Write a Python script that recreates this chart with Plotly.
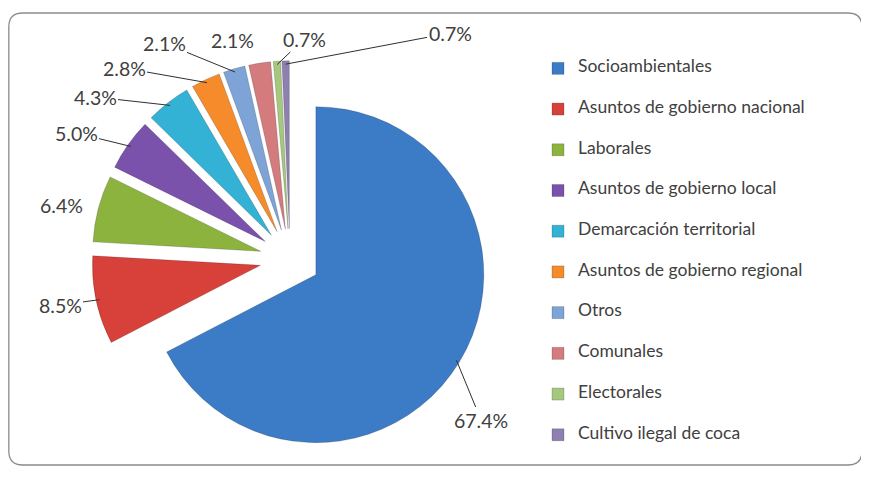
import math
import plotly.graph_objects as go

categories = [
    "Socioambientales",
    "Asuntos de gobierno nacional",
    "Laborales",
    "Asuntos de gobierno local",
    "Demarcación territorial",
    "Asuntos de gobierno regional",
    "Otros",
    "Comunales",
    "Electorales",
    "Cultivo ilegal de coca",
]
values = [67.4, 8.5, 6.4, 5.0, 4.3, 2.8, 2.1, 2.1, 0.7, 0.7]
colors = [
    "#3C7BC6", "#D8413A", "#8DB33F", "#7B52AB", "#33B2D5",
    "#F68B2C", "#7EA3D6", "#D47B7D", "#A6C87E", "#8E80B0",
]

# where each percentage label sits (window pixels) and whether it has a leader line
label_pos = [(481, 420), (60, 305), (61, 205), (76, 133), (95, 97),
             (124, 68), (164, 43), (232, 40), (304, 39), (450, 33)]
leader = [True, True, False, True, True, True, True, False, True, True]

W, H = 869, 477
OFF = 8  # page body margin
FONT = "Lato"
TEXT_COLOR = "#404040"


def px(wx):
    return (wx - OFF) / W


def py(wy):
    return 1 - (wy - OFF) / H


# legend labels: blank lines above/below give taller, centred entries
legend_labels = [
    f"<br><span style='font-size:17.5px'>{c}</span><br> " for c in categories
]

# pie geometry (window pixels) -> paper domain
cx, cy, r, pull = 290, 259, 168, 0.18
half = r * (1 + pull)
dom_x = [px(cx - half), px(cx + half)]
dom_y = [py(cy + half), py(cy - half)]

fig = go.Figure(
    go.Pie(
        labels=legend_labels,
        values=values,
        sort=False,
        direction="clockwise",
        rotation=0,
        pull=[pull] * len(values),
        marker=dict(colors=colors, line=dict(color="rgba(0,0,0,0.22)", width=0.8)),
        textinfo="none",
        domain=dict(x=dom_x, y=dom_y),
        hoverinfo="skip",
    )
)

# percentage labels with leader lines pointing at each slice's outer edge
total = sum(values)
annotations = []
start = 0.0
for v, (lx, ly), has_line in zip(values, label_pos, leader):
    mid = (start + v / 2) / total * 2 * math.pi
    start += v
    dist = r * (pull + 0.98)
    tx = cx + dist * math.sin(mid)
    ty = cy - dist * math.cos(mid)
    txt = f"{v:.1f}%"
    if has_line:
        annotations.append(dict(
            x=px(tx), y=py(ty), xref="paper", yref="paper",
            text=txt, showarrow=True, arrowhead=0, arrowwidth=1,
            arrowcolor="#303030", ax=lx - tx, ay=ly - ty, standoff=0,
            font=dict(size=19.5, family=FONT, color=TEXT_COLOR),
        ))
    else:
        annotations.append(dict(
            x=px(lx), y=py(ly), xref="paper", yref="paper",
            text=txt, showarrow=False, xanchor="center", yanchor="middle",
            font=dict(size=19.5, family=FONT, color=TEXT_COLOR),
        ))

# rounded border
x0, x1 = px(OFF + 0.8), px(862)
yt, yb = py(13), py(465)
rx, ry = 14 / W, 14 / H
path = (
    f"M {x0+rx},{yt} L {x1-rx},{yt} Q {x1},{yt} {x1},{yt-ry} "
    f"L {x1},{yb+ry} Q {x1},{yb} {x1-rx},{yb} "
    f"L {x0+rx},{yb} Q {x0},{yb} {x0},{yb+ry} "
    f"L {x0},{yt-ry} Q {x0},{yt} {x0+rx},{yt} Z"
)

fig.update_layout(
    width=W,
    height=H,
    margin=dict(l=0, r=0, t=0, b=0, autoexpand=False),
    paper_bgcolor="white",
    plot_bgcolor="white",
    font=dict(family=FONT, color=TEXT_COLOR),
    showlegend=True,
    legend=dict(
        x=px(538),
        xanchor="left",
        y=py(43),
        yanchor="top",
        font=dict(size=9.67, family=FONT, color=TEXT_COLOR),
        bgcolor="rgba(0,0,0,0)",
        itemclick=False,
        itemdoubleclick=False,
    ),
    annotations=annotations,
    shapes=[
        dict(
            type="path",
            xref="paper",
            yref="paper",
            path=path,
            line=dict(color="#8C8C8C", width=1.3),
            fillcolor="rgba(0,0,0,0)",
            layer="below",
        )
    ],
)

fig.write_html("out.html")
